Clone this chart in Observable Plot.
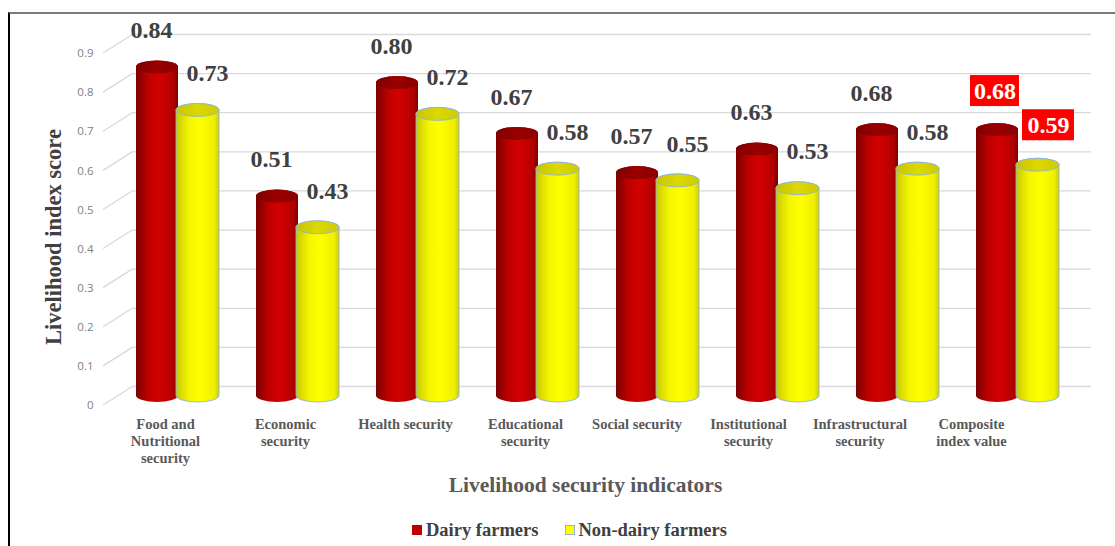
<!DOCTYPE html>
<html>
<head>
<meta charset="utf-8">
<script src="https://cdn.jsdelivr.net/npm/d3@7"></script>
<script src="https://cdn.jsdelivr.net/npm/@observablehq/plot@0.6"></script>
<style>
  html, body { margin: 0; padding: 0; background: #fff; }
  #frame {
    position: absolute; left: 8px; top: 12px; width: 1107px; height: 540px;
    border-left: 2px solid #000; border-top: 2px solid #7a7a7a;
  }
  #legend {
    margin-left: 402px; margin-top: 6px; height: 20px; display: flex; align-items: center;
    font-family: "Liberation Serif", "Times New Roman", serif; font-weight: bold; font-size: 18.5px; color: #404040;
  }
  .sw { display: inline-block; width: 10px; height: 10px; margin-right: 4px; box-sizing: border-box; }
</style>
</head>
<body>
<svg width="0" height="0" style="position:absolute">
  <defs>
    <linearGradient id="redBody" x1="0" x2="1" y1="0" y2="0">
      <stop offset="0" stop-color="#7a0000"/>
      <stop offset="0.3" stop-color="#bf0000"/>
      <stop offset="0.55" stop-color="#d20000"/>
      <stop offset="0.88" stop-color="#b40000"/>
      <stop offset="1" stop-color="#7c0000"/>
    </linearGradient>
    <linearGradient id="redTop" x1="0" x2="1" y1="0" y2="0">
      <stop offset="0" stop-color="#7e0000"/>
      <stop offset="0.5" stop-color="#9a0000"/>
      <stop offset="1" stop-color="#880000"/>
    </linearGradient>
    <linearGradient id="yelBody" x1="0" x2="1" y1="0" y2="0">
      <stop offset="0" stop-color="#c8c800"/>
      <stop offset="0.3" stop-color="#f5f500"/>
      <stop offset="0.55" stop-color="#ffff00"/>
      <stop offset="0.88" stop-color="#f0f000"/>
      <stop offset="1" stop-color="#cfcf00"/>
    </linearGradient>
    <linearGradient id="yelTop" x1="0" x2="1" y1="0" y2="0">
      <stop offset="0" stop-color="#c9c500"/>
      <stop offset="0.5" stop-color="#dcd800"/>
      <stop offset="1" stop-color="#d0cc00"/>
    </linearGradient>
  </defs>
</svg>
<div id="frame">
  <div id="chart"></div>
  <div id="legend">
    <span class="sw" style="background:#c00000"></span><span>Dairy farmers</span>
    <span class="sw" style="background:#ffff00;border:1px solid #8db3e2;margin-left:26px"></span><span>Non-dairy farmers</span>
  </div>
</div>
<script>
const categories = [
  "Food and\nNutritional\nsecurity",
  "Economic\nsecurity",
  "Health security",
  "Educational\nsecurity",
  "Social security",
  "Institutional\nsecurity",
  "Infrastructural\nsecurity",
  "Composite\nindex value"
];
const dairy    = [0.84, 0.51, 0.80, 0.67, 0.57, 0.63, 0.68, 0.68];
const nonDairy = [0.73, 0.43, 0.72, 0.58, 0.55, 0.53, 0.58, 0.59];
const seriesNames = ["Dairy farmers", "Non-dairy farmers"];
const highlighted = "Composite\nindex value";
const yTicks = [0, 0.1, 0.2, 0.3, 0.4, 0.5, 0.6, 0.7, 0.8, 0.9];
const yTitle = "Livelihood index score";
const xTitle = "Livelihood security indicators";

const dairyRows = categories.map((c, i) => ({cat: c, v: dairy[i], series: seriesNames[0]}));
const nonRows = categories.map((c, i) => ({cat: c, v: nonDairy[i], series: seriesNames[1]}));

const serif = "Liberation Serif, Times New Roman, serif";
const ry = 6.5;

// gridline diagonal (3D side wall) segments
const diagonals = (index, scales, values, dims) => {
  const g = d3.create("svg:g").attr("stroke", "#d9d9d9").attr("stroke-width", 1.3);
  for (const t of yTicks) {
    const yf = scales.y(t) + 9.5;
    g.append("line")
      .attr("x1", dims.marginLeft - 13).attr("y1", yf)
      .attr("x2", dims.marginLeft + 17).attr("y2", yf - 19);
  }
  return g.node();
};

const cylinder = (rows, bodyFill, topFill, insL, insR, stroke) => [
  Plot.barY(rows, {x: "cat", y1: () => 0, y2: "v", insetLeft: insL, insetRight: insR,
    insetTop: -ry, insetBottom: -ry, rx: 22, ry: ry, fill: bodyFill,
    stroke: stroke || "none", strokeWidth: 0.9}),
  Plot.barY(rows, {x: "cat", y1: "v", y2: "v", insetLeft: insL, insetRight: insR,
    insetTop: -ry, insetBottom: -ry, rx: 22, ry: ry, fill: topFill,
    stroke: stroke || "none", strokeWidth: 0.9})
];

const xLabels = categories.map((c, i) =>
  Plot.text([c], {x: d => d, text: d => d, frameAnchor: "bottom", lineAnchor: "top",
    dy: 21, dx: i <= 3 ? -12 : -12 - (i - 3) * 8.5,
    fontFamily: serif, fontWeight: "bold", fontSize: 14.5, fill: "#595959", lineHeight: 1.17})
);

const hiD = dairyRows.filter(d => d.cat === highlighted);
const hiN = nonRows.filter(d => d.cat === highlighted);
const valueLabelStyle = {fontFamily: serif, fontWeight: "bold", fontSize: 24};

const chart = Plot.plot({
  width: 1105,
  height: 500,
  marginLeft: 106,
  marginRight: 38,
  marginTop: 29.5,
  marginBottom: 118.5,
  x: {type: "band", domain: categories, padding: 0, axis: null},
  y: {domain: [0, 0.9], axis: null},
  marks: [
    Plot.ruleY(yTicks, {y: d => d, dx: 17, dy: -9.5, insetRight: 3, stroke: "#d9d9d9", strokeWidth: 1.3}),
    diagonals,
    Plot.text(yTicks, {y: d => d, text: d => d === 0 ? "0" : d.toFixed(1), frameAnchor: "left",
      textAnchor: "end", dx: -23, dy: 9.5, fontFamily: "Open Sans, sans-serif", fontSize: 11.5, fill: "#7f7f7f"}),
    ...cylinder(dairyRows, "url(#redBody)", "url(#redTop)", 19, 59),
    ...cylinder(nonRows, "url(#yelBody)", "url(#yelTop)", 59, 18, "#8db3e2"),
    // value labels
    Plot.text(dairyRows.filter(d => d.cat !== highlighted), {x: "cat", y: "v", text: d => d.v.toFixed(2),
      dx: -26, dy: -37, fill: "#404040", ...valueLabelStyle}),
    Plot.text(nonRows.filter(d => d.cat !== highlighted), {x: "cat", y: "v", text: d => d.v.toFixed(2),
      dx: 30, dy: -37, fill: "#404040", ...valueLabelStyle}),
    // highlighted composite labels
    Plot.barY(hiD, {x: "cat", y1: "v", y2: "v", insetTop: -15.5, insetBottom: -15.5,
      insetLeft: 13, insetRight: 58, dy: -39, fill: "#ff0000"}),
    Plot.barY(hiN, {x: "cat", y1: "v", y2: "v", insetTop: -15.5, insetBottom: -15.5,
      insetLeft: 65, insetRight: 3, dy: -40, fill: "#ff0000"}),
    Plot.text(hiD, {x: "cat", y: "v", text: d => d.v.toFixed(2), dx: -22.5, dy: -38.5, fill: "#ffffff", ...valueLabelStyle}),
    Plot.text(hiN, {x: "cat", y: "v", text: d => d.v.toFixed(2), dx: 31, dy: -39.5, fill: "#ffffff", ...valueLabelStyle}),
    ...xLabels,
    Plot.text([xTitle], {frameAnchor: "bottom", lineAnchor: "middle", textAnchor: "middle", dx: -11.5, dy: 89.5, text: d => d,
      fontFamily: serif, fontWeight: "bold", fontSize: 21.5, fill: "#595959"}),
    Plot.text([yTitle], {frameAnchor: "left", textAnchor: "middle", lineAnchor: "middle", dx: -63, dy: 17, rotate: -90, text: d => d,
      fontFamily: serif, fontWeight: "bold", fontSize: 22.5, fill: "#404040"})
  ]
});
document.getElementById("chart").appendChild(chart);
</script>
</body>
</html>
